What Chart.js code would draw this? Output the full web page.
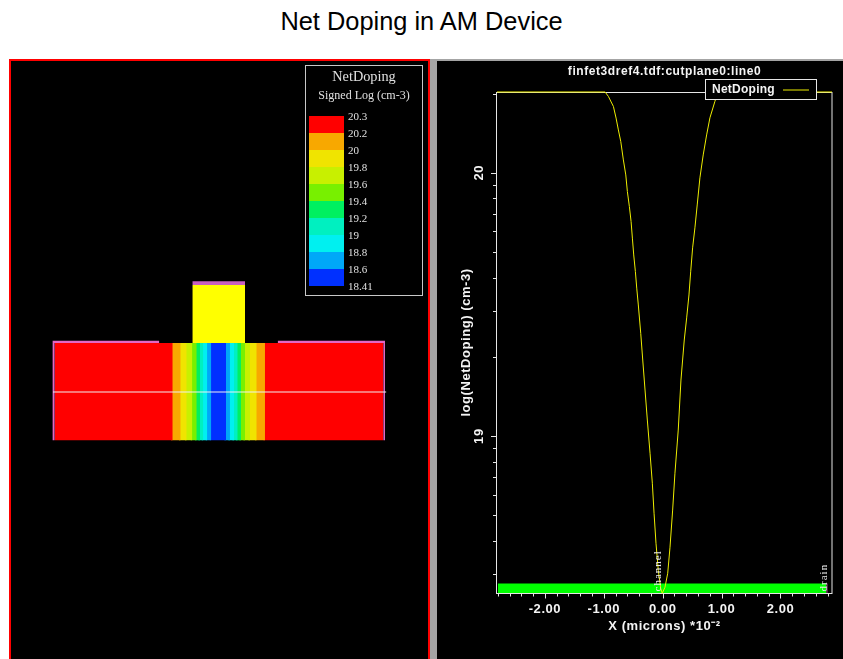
<!DOCTYPE html>
<html>
<head>
<meta charset="utf-8">
<script src="https://cdn.jsdelivr.net/npm/chart.js@4"></script>
<style>
html,body{margin:0;padding:0;background:#fff;width:843px;height:659px;overflow:hidden}
#title{position:absolute;left:0;top:6px;width:843px;text-align:center;font:25.4px "Liberation Sans",Arial,sans-serif;color:#000;line-height:30px}
#leftPanel{position:absolute;left:9px;top:59px;width:417px;height:600px;border:2px solid #f00;border-bottom:none;background:#000}
#rightBack{position:absolute;left:430px;top:59px;width:413px;height:600px;background:#a4a4a4}
#leftChart{position:absolute;left:0;top:0}
#rightChart{position:absolute;left:437px;top:61px;background:#000}
</style>
</head>
<body>
<div id="title">Net Doping in AM Device</div>
<div id="rightBack"></div>
<div id="leftPanel"><canvas id="leftChart" width="417" height="598"></canvas></div>
<canvas id="rightChart" width="406" height="598"></canvas>
<script>
// ---- device cross-section (microns *10^-2) ----
const bandEdges = [-2.76,-0.774,-0.640,-0.539,-0.444,-0.370,-0.315,-0.259,-0.192,-0.125,0.123,0.190,0.258,0.320,0.375,0.443,0.527,0.640,0.779,2.77];
const bandColors = ['#ff0000','#f8a800','#f0e400','#c8f000','#78f000','#00f060','#00f0c0','#00f0f0','#00a8f8','#0030ff','#00a8f8','#00f0f0','#00f0c0','#00f060','#78f000','#c8f000','#f0e400','#f8a800','#ff0000'];
const deviceBottom = 0, deviceTop = 1.638, oxideTop = 1.677;
const deviceLeft = -2.8, deviceRight = 2.8;
const contactInnerLeft = -1.0, contactInnerRight = 0.993;
const finLeft = -0.444, finRight = 0.443, finTop = 2.616, finCapTop = 2.678;
const cutY = 0.813, cutStart = -2.79, cutEnd = 2.82;

// ---- colour legend ----
const legendLabels = ['20.3','20.2','20','19.8','19.6','19.4','19.2','19','18.8','18.6','18.41'];
const legendColors = ['#ff0000','#f8a800','#f0e400','#c8f000','#78f000','#00f060','#00f0c0','#00f0f0','#00a8f8','#0030ff'];

// ---- NetDoping along the cut line ----
const profileX = [-2.814,-0.978,-0.922,-0.837,-0.792,-0.753,-0.712,-0.668,-0.627,-0.600,-0.566,-0.537,-0.515,-0.492,-0.464,-0.441,-0.414,-0.373,-0.339,-0.300,-0.261,-0.215,-0.176,-0.147,-0.114,-0.075,-0.034,-0.007,0.039,0.085,0.124,0.169,0.208,0.264,0.310,0.366,0.407,0.446,0.475,0.508,0.547,0.586,0.632,0.688,0.746,0.802,0.886,0.937,2.875];
const profileY = [20.307,20.307,20.290,20.252,20.208,20.163,20.119,20.049,19.992,19.929,19.872,19.815,19.752,19.688,19.625,19.562,19.498,19.390,19.289,19.175,19.061,18.935,18.821,18.707,18.593,18.490,18.422,18.403,18.426,18.479,18.578,18.719,18.859,19.023,19.213,19.365,19.449,19.536,19.624,19.715,19.791,19.878,19.981,20.068,20.144,20.209,20.271,20.307,20.307];
const regionBarX = [-2.8,2.78], regionBarTop = 18.44, regionBarBottom = 18.404;
const drainMarkX = [2.78,2.8];
const xMajorTicks = [-2,-1,0,1,2];
const xMinorTicks = [-2.8,-2.6,-2.4,-2.2,-1.8,-1.6,-1.4,-1.2,-0.8,-0.6,-0.4,-0.2,0.2,0.4,0.6,0.8,1.2,1.4,1.6,1.8,2.2,2.4,2.6,2.8];
const yMajorTicks = [19,20];
const yMinorTicks = [18.477,18.602,18.699,18.778,18.845,18.903,18.954,19.301,19.477,19.602,19.699,19.778,19.845,19.903,19.954,20.301];
const regionNames = ['channel','drain'];
const regionNameX = [-0.07,2.74];
const regionNameY = 18.41;
const seriesName = 'NetDoping';

const YELLOW = '#eeee00', PINK = '#e466c4', FRAME = '#e6e6e6', TEXT = '#f4f4f4';
const SANS = '"Liberation Sans",Arial,sans-serif', SERIF = '"Liberation Serif","Times New Roman",serif';

function rect(x0, x1, y0, y1, color) {
  return {data:[{x:x0,y:y1},{x:x1,y:y1}], showLine:true, borderWidth:0, borderColor:color,
          backgroundColor:color, pointRadius:0, fill:{value:y0}, clip:false};
}

const leftDatasets = [
  {data:[{x:cutStart,y:cutY},{x:cutEnd,y:cutY}], showLine:true, borderColor:'#f0f0f0', borderWidth:1, pointRadius:0, fill:false}
];
// each later band slides slightly under the one before it, so no dark seam shows between them
bandColors.forEach((c,i)=>leftDatasets.push(rect(bandEdges[i]-(i?0.03:0),bandEdges[i+1],deviceBottom,deviceTop,c)));
leftDatasets.push(rect(finLeft,finRight,deviceTop,finTop,'#ffff00'));
leftDatasets.push(rect(finLeft,finRight,finTop,finCapTop,'#c860c0'));
leftDatasets.push(rect(deviceLeft,contactInnerLeft,deviceTop,oxideTop,PINK));
leftDatasets.push(rect(contactInnerRight,deviceRight,deviceTop,oxideTop,PINK));
leftDatasets.push(rect(deviceLeft,bandEdges[0],deviceBottom,deviceTop,PINK));
leftDatasets.push(rect(bandEdges[bandEdges.length-1],deviceRight,deviceBottom,deviceTop,PINK));

const colorLegend = {
  id:'colorLegend',
  afterDraw(chart){
    const c = chart.ctx, ox = -11, oy = -61;
    c.save();
    c.translate(ox,oy);
    c.fillStyle='#000'; c.fillRect(305.5,65.5,117,230);
    c.strokeStyle='#c8c8c8'; c.lineWidth=1; c.strokeRect(305.5,65.5,117,230);
    c.fillStyle='#e0e0e0'; c.textAlign='center'; c.textBaseline='middle';
    c.font='14.3px '+SERIF; c.fillText('NetDoping',364,77);
    c.font='12px '+SERIF; c.fillText('Signed Log (cm-3)',364,95.5);
    legendColors.forEach((col,i)=>{ c.fillStyle=col; c.fillRect(309,116+17*i,35,17); });
    c.fillStyle='#e0e0e0'; c.textAlign='left'; c.font='11px '+SERIF;
    legendLabels.forEach((t,i)=>c.fillText(t,348,117+17*i));
    c.restore();
  }
};

new Chart(document.getElementById('leftChart'),{
  type:'scatter',
  data:{datasets:leftDatasets},
  options:{
    responsive:false, animation:false, devicePixelRatio:1,
    layout:{padding:0},
    plugins:{legend:{display:false},tooltip:{enabled:false}},
    scales:{
      x:{type:'linear',display:false,min:-3.497,max:3.524},
      y:{type:'linear',display:false,min:-3.682,max:6.386}
    }
  },
  plugins:[colorLegend]
});

const frameAndTicks = {
  id:'frameAndTicks',
  beforeDraw(chart){
    if ('letterSpacing' in chart.ctx) chart.ctx.letterSpacing='0.56px';
  },
  beforeDatasetsDraw(chart){
    const {ctx:c,chartArea:a}=chart;
    c.save(); c.strokeStyle=FRAME; c.lineWidth=1;
    c.strokeRect(a.left-0.5,a.top+0.5,a.right-a.left+0.5,a.bottom-a.top);
    c.restore();
  },
  afterDatasetsDraw(chart){
    const {ctx:c,chartArea:a,scales:{x,y}}=chart;
    c.save(); c.strokeStyle=FRAME; c.lineWidth=1; c.beginPath();
    xMajorTicks.concat(xMinorTicks).forEach(v=>{
      const p=Math.round(x.getPixelForValue(v))+0.5, len=xMajorTicks.includes(v)?5:3;
      c.moveTo(p,a.bottom+0.5); c.lineTo(p,a.bottom+0.5+len);
    });
    yMajorTicks.concat(yMinorTicks).forEach(v=>{
      const p=Math.round(y.getPixelForValue(v))+0.5, len=yMajorTicks.includes(v)?6:4;
      c.moveTo(a.left,p); c.lineTo(a.left-len,p);
    });
    c.stroke();
    // region names, anchored on the scales
    c.fillStyle='#e8e8e8'; c.font='11px '+SERIF; c.textAlign='left'; c.textBaseline='middle';
    if ('letterSpacing' in c) c.letterSpacing='1px';
    regionNames.forEach((t,i)=>{
      c.save();
      c.translate(x.getPixelForValue(regionNameX[i]),y.getPixelForValue(regionNameY));
      c.rotate(-Math.PI/2); c.fillText(t,0,0); c.restore();
    });
    c.restore();
  },
  afterDraw(chart){
    const c=chart.ctx;
    const bx=268.5, by=18.5, bw=111, bh=20;
    c.save();
    c.fillStyle='#000'; c.fillRect(bx,by,bw,bh);
    c.strokeStyle=FRAME; c.lineWidth=1; c.strokeRect(bx,by,bw,bh);
    c.fillStyle=TEXT; c.font='bold 12px '+SANS; c.textAlign='left'; c.textBaseline='middle';
    if ('letterSpacing' in c) c.letterSpacing='0.25px';
    c.fillText(seriesName,275,by+bh/2);
    c.strokeStyle=YELLOW; c.beginPath(); c.moveTo(346,by+bh/2+0.5); c.lineTo(372,by+bh/2+0.5); c.stroke();
    c.restore();
  }
};

new Chart(document.getElementById('rightChart'),{
  type:'scatter',
  data:{datasets:[
    {label:seriesName,data:profileX.map((v,i)=>({x:v,y:profileY[i]})),showLine:true,borderColor:YELLOW,borderWidth:1,pointRadius:0,fill:false,clip:false},
    rect(drainMarkX[0],drainMarkX[1],regionBarBottom,regionBarTop,PINK),
    rect(regionBarX[0],regionBarX[1],regionBarBottom,regionBarTop,'#00ff00')
  ]},
  options:{
    responsive:false, animation:false, devicePixelRatio:1,
    layout:{padding:{left:0,right:11,top:0,bottom:0}},
    plugins:{
      legend:{display:false},tooltip:{enabled:false},
      title:{display:true,fullSize:false,text:'finfet3dref4.tdf:cutplane0:line0',color:TEXT,
             font:{family:SANS,size:12,weight:'bold',lineHeight:1.2},padding:{top:3,bottom:13.6}}
    },
    scales:{
      x:{type:'linear',min:-2.814,max:2.875,
        grid:{display:false,drawTicks:false},border:{display:false},
        afterBuildTicks(s){s.ticks=xMajorTicks.map(v=>({value:v}));},
        afterFit(s){s.height=66;},
        ticks:{color:TEXT,padding:9,autoSkip:false,maxRotation:0,minRotation:0,font:{family:SANS,size:13,weight:'bold'},
               callback:v=>v.toFixed(2)},
        title:{display:true,text:'X (microns) *10\u207B\u00B2',color:TEXT,font:{family:SANS,size:13,weight:'bold'},padding:{top:2,bottom:25}}
      },
      y:{type:'linear',min:18.404,max:20.307,
        grid:{display:false,drawTicks:false},border:{display:false},
        afterBuildTicks(s){s.ticks=yMajorTicks.map(v=>({value:v}));},
        afterFit(s){s.width=60;},
        ticks:{color:TEXT,padding:10,autoSkip:false,minRotation:90,maxRotation:90,crossAlign:'center',font:{family:SANS,size:13,weight:'bold'},
               callback:v=>String(v)},
        title:{display:true,text:'log(NetDoping) (cm-3)',color:TEXT,font:{family:SANS,size:13,weight:'bold'},padding:{top:22,bottom:0}}
      }
    }
  },
  plugins:[frameAndTicks]
});
</script>
</body>
</html>
